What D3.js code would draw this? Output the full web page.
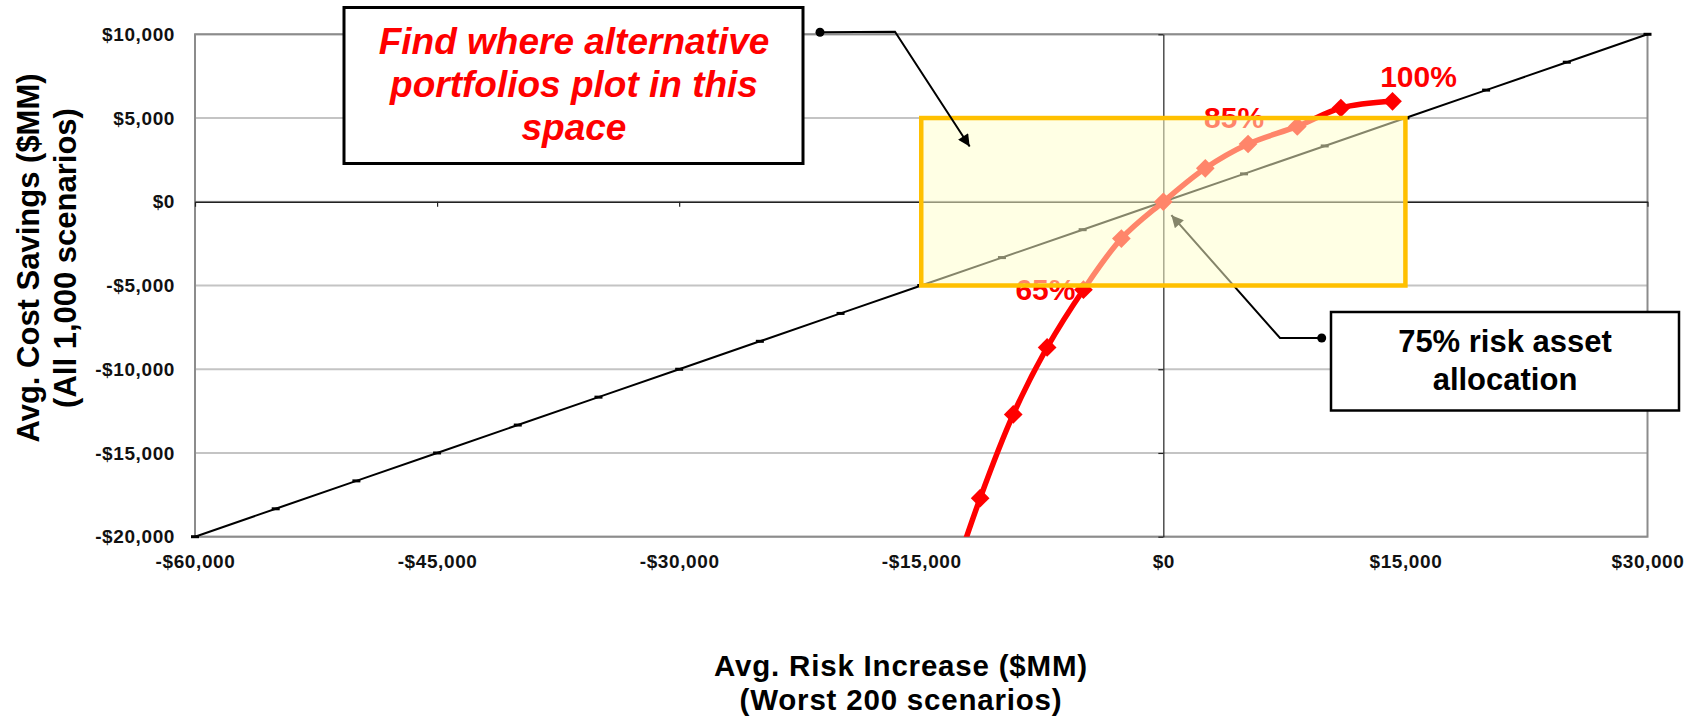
<!DOCTYPE html>
<html>
<head>
<meta charset="utf-8">
<script src="https://cdn.jsdelivr.net/npm/d3@7"></script>
<style>
  html, body { margin: 0; padding: 0; background: #ffffff; }
  svg { display: block; font-family: "Liberation Sans", Arial, Helvetica, sans-serif; }
</style>
</head>
<body>
<svg id="chart" width="1697" height="721"></svg>
<script>
// Efficient-allocation curve: share of risk assets vs. risk added and cost saved ($MM)
const allocations  = ["45%", "50%", "55%", "60%", "65%", "70%", "75%", "80%", "85%", "90%", "95%", "100%"];
const riskIncrease = [-13400, -11350, -9300, -7200, -4950, -2600, 0, 2600, 5250, 8300, 11000, 14200];
const costSavings  = [-23500, -17700, -12700, -8700, -5250, -2200, 0, 2000, 3450, 4500, 5600, 6000];
const labelledAllocations = ["65%", "85%", "100%"];

// Break-even reference line: $1 of savings for every $3 of added risk
const refRisk    = [-60000, -55000, -50000, -45000, -40000, -35000, -30000, -25000, -20000, -15000,
                    -10000, -5000, 0, 5000, 10000, 15000, 20000, 25000, 30000];
const refSavings = [-20000, -18333, -16667, -15000, -13333, -11667, -10000, -8333, -6667, -5000,
                    -3333, -1667, 0, 1667, 3333, 5000, 6667, 8333, 10000];

// Axis ticks and the highlighted target zone
const xTicks = [-60000, -45000, -30000, -15000, 0, 15000, 30000];
const yTicks = [-20000, -15000, -10000, -5000, 0, 5000, 10000];
const zoneRisk    = [-15000, 15000];
const zoneSavings = [-5000, 5000];

// Annotation call-outs (data-space targets of the arrows)
const zoneNoteTarget   = [-12000, 3300];
const originNoteTarget = [500, -800];

const svg = d3.select("#chart");
const FONT = '"Liberation Sans", Arial, Helvetica, sans-serif';

const x = d3.scaleLinear().domain([-60000, 30000]).range([195, 1647.5]);
const y = d3.scaleLinear().domain([-20000, 10000]).range([536.7, 34.3]);

const money = v => (v < 0 ? "-" : "") + "$" + d3.format(",")(Math.abs(v));

// ---- defs: clip + arrowheads
const defs = svg.append("defs");
defs.append("clipPath").attr("id", "plotClip")
  .append("rect")
  .attr("x", x(-60000)).attr("y", y(10000))
  .attr("width", x(30000) - x(-60000)).attr("height", y(-20000) - y(10000));

defs.append("marker").attr("id", "arrowBlack")
  .attr("viewBox", "0 0 10 10").attr("refX", 10).attr("refY", 5)
  .attr("markerWidth", 16).attr("markerHeight", 12)
  .attr("markerUnits", "userSpaceOnUse").attr("orient", "auto")
  .append("path").attr("d", "M0,0 L10,5 L0,10 Z").attr("fill", "#000");

// ---- gridlines
svg.append("g").selectAll("line").data(yTicks).join("line")
  .attr("x1", x(-60000)).attr("x2", x(30000))
  .attr("y1", d => y(d)).attr("y2", d => y(d))
  .attr("stroke", "#c4c4c4").attr("stroke-width", 2);

// ---- plot frame
svg.append("rect")
  .attr("x", x(-60000)).attr("y", y(10000))
  .attr("width", x(30000) - x(-60000)).attr("height", y(-20000) - y(10000))
  .attr("fill", "none").attr("stroke", "#8c8c8c").attr("stroke-width", 2);

// ---- tick labels along the frame
const styleTickText = sel => sel.selectAll("text")
  .attr("font-family", FONT).attr("font-size", 19).attr("font-weight", "bold")
  .attr("letter-spacing", "0.6px").attr("fill", "#111");

const yLabels = svg.append("g").attr("transform", `translate(${x(-60000)},0)`)
  .call(d3.axisLeft(y).tickValues(yTicks).tickFormat(money).tickSize(0).tickPadding(20));
yLabels.select(".domain").remove();
styleTickText(yLabels);

const xLabels = svg.append("g").attr("transform", `translate(0,${y(-20000)})`)
  .call(d3.axisBottom(x).tickValues(xTicks).tickFormat(money).tickSize(0).tickPadding(18));
xLabels.select(".domain").remove();
styleTickText(xLabels);

// ---- axes crossing at zero
const xZero = svg.append("g").attr("transform", `translate(0,${y(0)})`)
  .call(d3.axisBottom(x).tickValues(xTicks).tickFormat("").tickSize(5).tickSizeOuter(0));
xZero.select(".domain").attr("stroke", "#222").attr("stroke-width", 1.5);
xZero.selectAll(".tick line").attr("stroke", "#222").attr("stroke-width", 1.2);

const yZero = svg.append("g").attr("transform", `translate(${x(0)},0)`)
  .call(d3.axisLeft(y).tickValues(yTicks).tickFormat("").tickSize(5).tickSizeOuter(0));
yZero.select(".domain").attr("stroke", "#222").attr("stroke-width", 1.2);
yZero.selectAll(".tick line").attr("stroke", "#222").attr("stroke-width", 1.2);

// ---- break-even reference line with dash markers
const refPts = refRisk.map((r, i) => [r, refSavings[i]]);
svg.append("path").datum(refPts)
  .attr("d", d3.line().x(d => x(d[0])).y(d => y(d[1])))
  .attr("fill", "none").attr("stroke", "#000").attr("stroke-width", 2);
svg.append("g").selectAll("rect").data(refPts).join("rect")
  .attr("x", d => x(d[0]) - 4).attr("y", d => y(d[1]) - 1.5)
  .attr("width", 8).attr("height", 3).attr("fill", "#000");

// ---- allocation curve
const curvePts = allocations.map((a, i) => ({ a, r: riskIncrease[i], s: costSavings[i] }));
const curveG = svg.append("g").attr("clip-path", "url(#plotClip)");
curveG.append("path").datum(curvePts)
  .attr("d", d3.line().x(d => x(d.r)).y(d => y(d.s)).curve(d3.curveCatmullRom.alpha(0.5)))
  .attr("fill", "none").attr("stroke", "#ff0000").attr("stroke-width", 5.5)
  .attr("stroke-linejoin", "round");
curveG.selectAll("path.pt").data(curvePts).join("path").attr("class", "pt")
  .attr("d", d3.symbol(d3.symbolSquare, 175))
  .attr("transform", d => `translate(${x(d.r)},${y(d.s)}) rotate(45)`)
  .attr("fill", "#ff0000");

// point labels
const labelOffset = { "65%": [-38, 10], "85%": [-14, -16], "100%": [26, -14] };
svg.append("g").selectAll("text")
  .data(curvePts.filter(d => labelledAllocations.includes(d.a))).join("text")
  .attr("x", d => x(d.r) + labelOffset[d.a][0])
  .attr("y", d => y(d.s) + labelOffset[d.a][1])
  .attr("text-anchor", "middle").attr("font-family", FONT)
  .attr("font-size", 30).attr("font-weight", "bold").attr("fill", "#ff0000")
  .text(d => d.a);

// ---- call-out to the 75% point (sits under the translucent zone)
const oTip = [x(originNoteTarget[0]), y(originNoteTarget[1])];
svg.append("path")
  .attr("d", `M1321.7,338 L1280,338 L${oTip[0]},${oTip[1]}`)
  .attr("fill", "none").attr("stroke", "#000").attr("stroke-width", 2)
  .attr("marker-end", "url(#arrowBlack)");

// ---- target zone
const zx0 = x(zoneRisk[0]), zx1 = x(zoneRisk[1]);
const zy0 = y(zoneSavings[1]), zy1 = y(zoneSavings[0]);
svg.append("rect")
  .attr("x", zx0).attr("y", zy0).attr("width", zx1 - zx0).attr("height", zy1 - zy0)
  .attr("fill", "#ffffcc").attr("fill-opacity", 0.52);
svg.append("rect")
  .attr("x", zx0).attr("y", zy0).attr("width", zx1 - zx0).attr("height", zy1 - zy0)
  .attr("fill", "none").attr("stroke", "#ffc000").attr("stroke-width", 4.5);

// ---- call-out box: target zone
svg.append("rect")
  .attr("x", 344).attr("y", 7.5).attr("width", 459).attr("height", 156)
  .attr("fill", "#fff").attr("stroke", "#000").attr("stroke-width", 3);
const zoneNote = svg.append("text").attr("text-anchor", "middle")
  .attr("font-family", FONT).attr("font-size", 37).attr("font-weight", "bold")
  .attr("font-style", "italic").attr("fill", "#ff0000");
[["Find where alternative", 53.5], ["portfolios plot in this", 97], ["space", 140]]
  .forEach(([t, by]) => zoneNote.append("tspan").attr("x", 574).attr("y", by).text(t));

const zTip = [x(zoneNoteTarget[0]), y(zoneNoteTarget[1])];
svg.append("path")
  .attr("d", `M820,32.3 L895,31.8 L${zTip[0]},${zTip[1]}`)
  .attr("fill", "none").attr("stroke", "#000").attr("stroke-width", 2)
  .attr("marker-end", "url(#arrowBlack)");
svg.append("circle").attr("cx", 820).attr("cy", 32.3).attr("r", 4.5).attr("fill", "#000");

// ---- call-out box: 75% allocation
svg.append("rect")
  .attr("x", 1331).attr("y", 312).attr("width", 348).attr("height", 98.5)
  .attr("fill", "#fff").attr("stroke", "#000").attr("stroke-width", 2.5);
const originNote = svg.append("text").attr("text-anchor", "middle")
  .attr("font-family", FONT).attr("font-size", 31).attr("font-weight", "bold").attr("fill", "#000");
[["75% risk asset", 352], ["allocation", 389.5]]
  .forEach(([t, by]) => originNote.append("tspan").attr("x", 1505).attr("y", by).text(t));
svg.append("circle").attr("cx", 1321.7).attr("cy", 338).attr("r", 4.5).attr("fill", "#000");

// ---- axis titles
const yTitle = svg.append("text")
  .attr("transform", "translate(0,258) rotate(-90)")
  .attr("text-anchor", "middle").attr("font-family", FONT)
  .attr("font-size", 31).attr("font-weight", "bold").attr("fill", "#000");
yTitle.append("tspan").attr("x", 0).attr("y", 38.5).text("Avg. Cost Savings ($MM)");
yTitle.append("tspan").attr("x", 0).attr("y", 75.5).text("(All 1,000 scenarios)");

[["Avg. Risk Increase ($MM)", 676], ["(Worst 200 scenarios)", 710]].forEach(([t, by]) =>
  svg.append("text")
    .attr("x", 901).attr("y", by)
    .attr("text-anchor", "middle").attr("font-family", FONT)
    .attr("font-size", 29.5).attr("font-weight", "bold").attr("letter-spacing", "0.8px")
    .attr("fill", "#000").text(t));
</script>
</body>
</html>
